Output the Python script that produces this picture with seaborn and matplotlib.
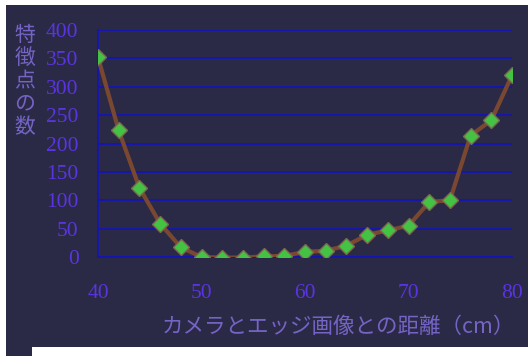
import matplotlib
matplotlib.use('Agg')
import matplotlib.pyplot as plt
import seaborn as sns
import pandas as pd
from matplotlib.patches import Rectangle

# Data
distance_cm = [40, 42, 44, 46, 48, 50, 52, 54, 56, 58, 60,
               62, 64, 66, 68, 70, 72, 74, 76, 78, 80]
n_features = [352, 223, 122, 59, 17, 0, -1, -1, 1, 2, 9,
              11, 20, 39, 47, 55, 97, 100, 214, 241, 320]
x_ticks = [40, 50, 60, 70, 80]
y_ticks = [0, 50, 100, 150, 200, 250, 300, 350, 400]

bg = '#2a2a47'
grid_blue = '#1414b4'
tick_purple = '#5a34e0'
label_purple = '#7464c4'

sns.set_theme(style='white')
plt.rcParams['font.family'] = ['Liberation Serif', 'DejaVu Sans']

df = pd.DataFrame({'distance': distance_cm, 'count': n_features})

fig = plt.figure(figsize=(5.30, 3.56), dpi=100, facecolor='white')
W, H = 530, 356
# dark background panel (white margins like the source image)
fig.patches.append(Rectangle((6 / W, 9 / H), (528 - 6) / W, (351 - 9) / H,
                             transform=fig.transFigure, facecolor=bg,
                             edgecolor='none', zorder=-10))
fig.patches.append(Rectangle((6 / W, 0), (32 - 6) / W, 10 / H,
                             transform=fig.transFigure, facecolor=bg,
                             edgecolor='none', zorder=-10))

ax = fig.add_axes([98 / W, (H - 257) / H, 414 / W, (257 - 30) / H])
ax.set_facecolor(bg)

sns.lineplot(data=df, x='distance', y='count', ax=ax, color='#7a4830',
             linewidth=3.0, marker='D', markersize=8.2,
             markerfacecolor='#44c244', markeredgecolor='#7d6a4e',
             markeredgewidth=1.0, zorder=5)

ax.set_xlim(40, 80)
ax.set_ylim(0, 400)
ax.set_xticks(x_ticks)
ax.set_yticks(y_ticks)
ax.yaxis.grid(True, color=grid_blue, linewidth=1.3)
ax.xaxis.grid(False)
ax.set_axisbelow(True)

for side in ['top', 'right']:
    ax.spines[side].set_visible(False)
for side in ['left', 'bottom']:
    ax.spines[side].set_color(grid_blue)
    ax.spines[side].set_linewidth(1.3)

ax.tick_params(axis='y', direction='out', length=4.5, width=1.2, color=grid_blue,
               pad=9.5, labelsize=15.5, labelcolor=tick_purple)
ax.tick_params(axis='x', direction='out', length=4.5, width=1.2, color=grid_blue,
               pad=15, labelsize=15.5, labelcolor=tick_purple)
ax.set_xlabel('')
ax.set_ylabel('')

cjk = ['Noto Sans CJK JP', 'DejaVu Sans']
fig.text(338 / W, (H - 327) / H, 'カメラとエッジ画像との距離（cm）', family=cjk,
         fontsize=15.5, color=label_purple, ha='center', va='center')
fig.text(25 / W, (H - 81) / H, '特\n徴\n点\nの\n数', family=cjk,
         fontsize=15, color=label_purple, ha='center', va='center',
         linespacing=1.05)

fig.savefig('out.png', dpi=100, facecolor='white')
